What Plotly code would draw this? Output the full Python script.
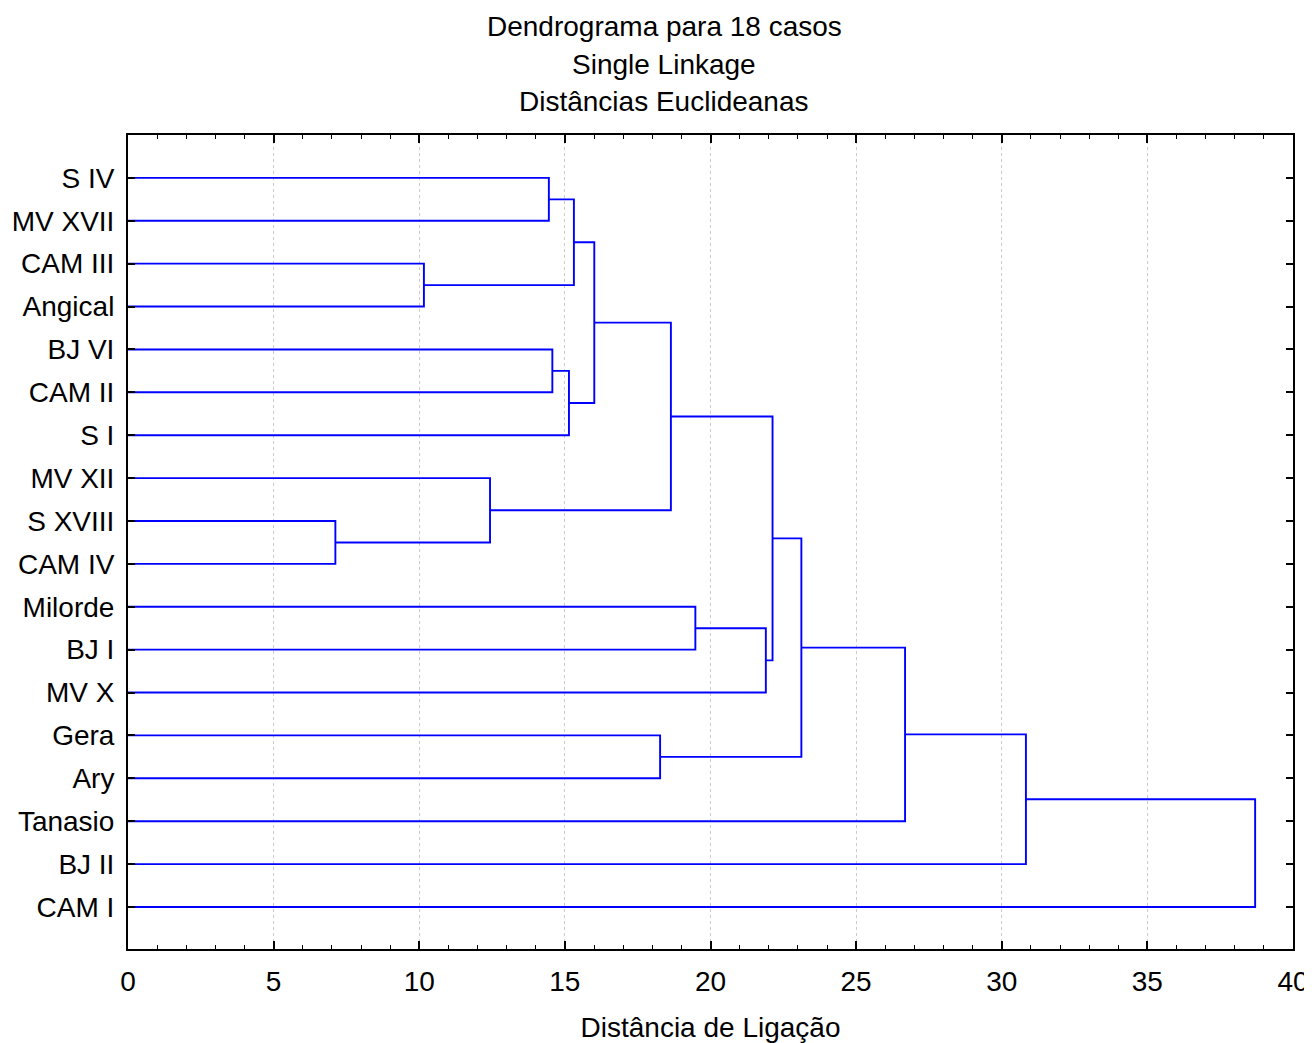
import plotly.graph_objects as go

# Leaf labels in dendrogram order (top to bottom)
labels = ["S IV", "MV XVII", "CAM III", "Angical", "BJ VI", "CAM II", "S I",
          "MV XII", "S XVIII", "CAM IV", "Milorde", "BJ I", "MV X", "Gera",
          "Ary", "Tanasio", "BJ II", "CAM I"]

# Linkage: (child_a, child_b) ; leaves 0..17, new clusters numbered from 18
merge_left = [8, 2, 7, 0, 4, 22, 21, 24, 13, 25, 10, 28, 27, 30, 31, 32, 33]
merge_right = [9, 3, 18, 1, 5, 6, 19, 23, 14, 20, 11, 12, 29, 26, 15, 16, 17]
merge_height = [7.12, 10.16, 12.43, 14.45, 14.57, 15.14, 15.31, 16.01, 18.27,
                18.64, 19.48, 21.90, 22.13, 23.12, 26.68, 30.83, 38.70]

n = len(labels)
pos = {i: (i + 1, 0.0) for i in range(n)}  # node -> (y position, height)

xs, ys = [], []
for k, (a, b, h) in enumerate(zip(merge_left, merge_right, merge_height)):
    ya, ha = pos[a]
    yb, hb = pos[b]
    xs += [ha, h, h, hb, None]
    ys += [ya, ya, yb, yb, None]
    pos[n + k] = ((ya + yb) / 2, h)

fig = go.Figure()
fig.add_trace(go.Scatter(x=xs, y=ys, mode="lines",
                         line=dict(color="#0000FF", width=1.9),
                         hoverinfo="skip", showlegend=False))

font_family = "Liberation Sans, Arial, sans-serif"
FS = 28
fig.update_layout(
    width=1304, height=1035,
    margin=dict(l=120, r=19, t=127, b=94),
    paper_bgcolor="white", plot_bgcolor="white",
    font=dict(family=font_family, size=FS, color="black"),
    showlegend=False,
)
fig.update_xaxes(
    range=[0, 40], tickvals=list(range(0, 41, 5)),
    ticks="inside", ticklen=8, tickwidth=1.5, tickcolor="black",
    minor=dict(ticks="inside", dtick=1, ticklen=4, tickwidth=1.2, tickcolor="black", showgrid=False),
    showline=True, linecolor="black", linewidth=2, mirror="ticks",
    showgrid=True, gridcolor="#cccccc", griddash="dot", gridwidth=1,
    zeroline=False, automargin=False,
    tickfont=dict(size=FS), ticklabelstandoff=6,
    title=dict(text="Distância de Ligação", font=dict(size=FS), standoff=30),
)
fig.update_yaxes(
    range=[18.98, 0], tickvals=list(range(1, n + 1)), ticktext=labels,
    ticks="inside", ticklen=7, tickwidth=1.5, tickcolor="black",
    showline=True, linecolor="black", linewidth=2, mirror="ticks",
    showgrid=False, zeroline=False, automargin=False,
    tickfont=dict(size=FS), ticklabelstandoff=6,
)

titles = ["Dendrograma para 18 casos", "Single Linkage", "Distâncias Euclideanas"]
title_px = [27, 64, 102]
for t, ypx in zip(titles, title_px):
    fig.add_annotation(text=t, xref="paper", yref="paper",
                       x=(664 - 128) / 1165, y=(949 - ypx) / 814,
                       xanchor="center", yanchor="middle", showarrow=False,
                       font=dict(size=FS, family=font_family))

fig.write_html("out.html")
